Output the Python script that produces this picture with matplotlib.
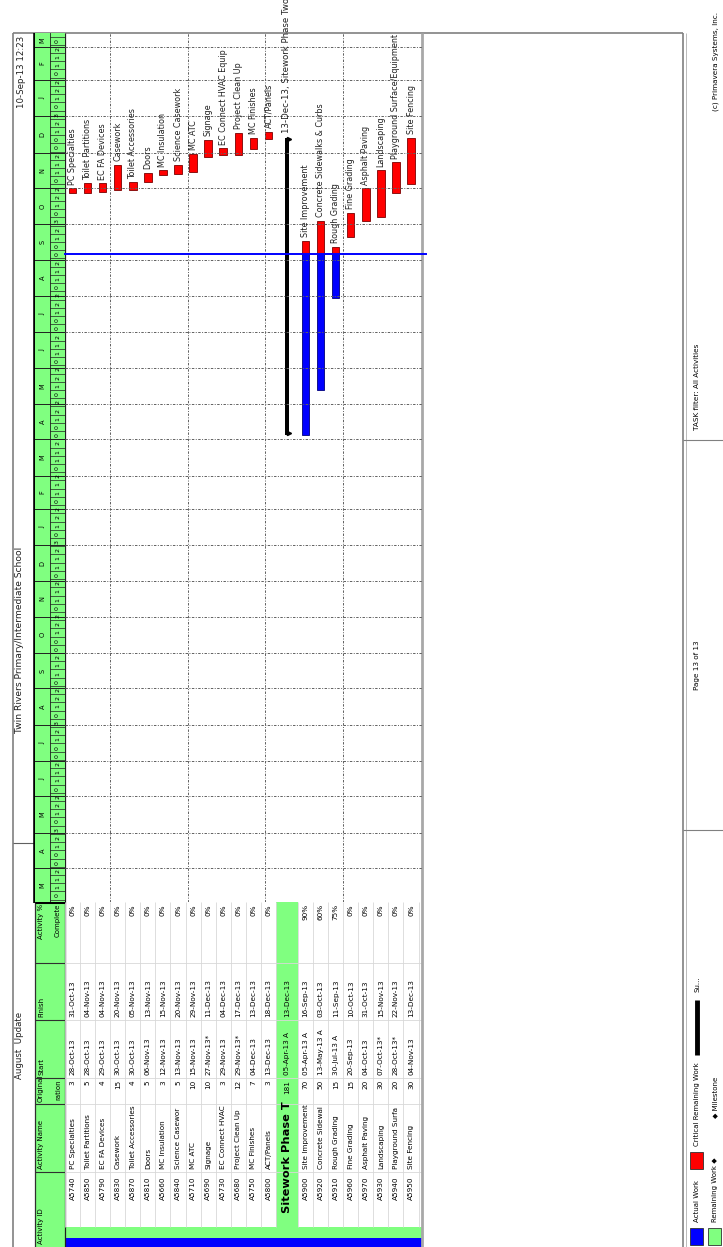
import datetime as dt

import matplotlib
matplotlib.use("Agg")
import matplotlib.dates as mdates
import matplotlib.pyplot as plt
import pandas as pd
from matplotlib.patches import Rectangle

# ── datos ─────────────────────────────────────────────────────────────────────
activity_ids = ["A5740", "A5850", "A5790", "A5830", "A5870", "A5810", "A5660",
                "A5840", "A5710", "A5690", "A5730", "A5680", "A5750", "A5800",
                "A5900", "A5920", "A5910", "A5960", "A5970", "A5930", "A5940",
                "A5950"]
activity_names = ["PC Specialties", "Toilet Partitions", "EC FA Devices",
                  "Casework", "Toilet Accessories", "Doors", "MC Insulation",
                  "Science Casework", "MC ATC", "Signage",
                  "EC Connect HVAC Equip", "Project Clean Up", "MC Finishes",
                  "ACT/Panels", "Site Improvement",
                  "Concrete Sidewalks & Curbs", "Rough Grading", "Fine Grading",
                  "Asphalt Paving", "Landscaping",
                  "Playground Surface/Equipment", "Site Fencing"]
orig_duration = [3, 5, 4, 15, 4, 5, 3, 5, 10, 10, 3, 12, 7, 3,
                 70, 50, 15, 15, 20, 30, 20, 30]
start_dates = ["28-Oct-13", "28-Oct-13", "29-Oct-13", "30-Oct-13", "30-Oct-13",
               "06-Nov-13", "12-Nov-13", "13-Nov-13", "15-Nov-13", "27-Nov-13",
               "29-Nov-13", "29-Nov-13", "04-Dec-13", "13-Dec-13",
               "05-Apr-13", "13-May-13", "30-Jul-13", "20-Sep-13", "04-Oct-13",
               "07-Oct-13", "28-Oct-13", "04-Nov-13"]
start_flags = ["", "", "", "", "", "", "", "", "", "*", "", "*", "", "",
               " A", " A", " A", "", "", "*", "*", ""]
finish_dates = ["31-Oct-13", "04-Nov-13", "04-Nov-13", "20-Nov-13", "05-Nov-13",
                "13-Nov-13", "15-Nov-13", "20-Nov-13", "29-Nov-13", "11-Dec-13",
                "04-Dec-13", "17-Dec-13", "13-Dec-13", "18-Dec-13",
                "16-Sep-13", "03-Oct-13", "11-Sep-13", "10-Oct-13", "31-Oct-13",
                "15-Nov-13", "22-Nov-13", "13-Dec-13"]
pct_complete = [0, 0, 0, 0, 0, 0, 0, 0, 0, 0, 0, 0, 0, 0,
                90, 60, 75, 0, 0, 0, 0, 0]

summary_name = "Sitework Phase Two"
summary_duration = 181
summary_start = "05-Apr-13"
summary_finish = "13-Dec-13"
summary_before = 14          # la fila resumen va antes de la actividad 14

data_date = "06-Sep-13"
timescale_start = "03-Mar-12"
timescale_end = "13-Mar-14"

# ── layout (pixeles de la pagina rotada) ──────────────────────────────────────
W, H = 723, 1247
ROW_H = 15.07
SUM_W = 22
TOP_Y, TS_Y = 33, 902
GX0, GX1 = 65, 422
COL_LINES = [1172, 1104, 1078, 1020, 963]
GREEN = "#80FF80"
RED = "#FF0000"
BLUE = "#0000FF"
FONT = "DejaVu Sans"

plt.rcParams["font.family"] = [FONT]


def _d(s):
    return dt.datetime.strptime(s, "%d-%b-%y")


def _num(s):
    return mdates.date2num(_d(s))


# posiciones de filas
row_x = []
x = GX0
for i in range(len(activity_ids)):
    if i == summary_before:
        sum_x0 = x
        x += SUM_W
    row_x.append(x + ROW_H / 2)
    x += ROW_H
sum_xc = sum_x0 + SUM_W / 2

fig = plt.figure(figsize=(W / 100, H / 100), dpi=100)
renderer = fig.canvas.get_renderer()

# pagina completa en pixeles
pg = fig.add_axes([0, 0, 1, 1], zorder=0)
pg.set_xlim(0, W)
pg.set_ylim(H, 0)
pg.axis("off")


def hline(y, x0, x1, **kw):
    pg.plot([x0, x1], [y, y], solid_capstyle="butt", **kw)


def vline(x, y0, y1, **kw):
    pg.plot([x, x], [y0, y1], solid_capstyle="butt", **kw)


def ptext(x, y, s, size, va="bottom", room=None, **kw):
    """Texto rotado; si no cabe en `room` px se recorta como en P6."""
    t = pg.text(x, y, s, rotation=90, ha="center", va=va, fontsize=size, **kw)
    if room is not None:
        while len(s) > 1 and t.get_window_extent(renderer).height > room:
            s = s[:-1] if va == "bottom" else s[1:]
            t.set_text(s)
    return t


# fondos
pg.add_patch(Rectangle((35, TS_Y), 30, H - TS_Y, color=GREEN, lw=0))
pg.add_patch(Rectangle((sum_x0, TS_Y), SUM_W, 1227 - TS_Y, color=GREEN, lw=0))
pg.add_patch(Rectangle((GX0, 1227), GX1 - GX0, 11, color=GREEN, lw=0))
pg.add_patch(Rectangle((GX0, 1238), GX1 - GX0, 10, color=BLUE, lw=0))

# bordes de pagina y cabecera
hline(TOP_Y, 13, 683, color="#808080", lw=1.2)
vline(13, TOP_Y, H, color="#808080", lw=1.2)
hline(843, 13, 35, color="#606060", lw=0.8)
vline(35, TOP_Y, TS_Y + 1, color="black", lw=2.6)
vline(35, TS_Y, H, color="#303030", lw=0.9)
vline(GX0, TOP_Y, H, color="#202020", lw=0.9)
hline(TS_Y, 35, GX0, color="black", lw=2.2)
for y in COL_LINES:
    hline(y, 35, GX0, color="#303030", lw=0.8)
    hline(y, GX0, GX1, color="#d8d8d8", lw=0.6)
x = GX0
for i in range(len(activity_ids)):
    if i == summary_before:
        vline(x, TS_Y, 1227, color="#d8d8d8", lw=0.6)
        x += SUM_W
    vline(x, TS_Y, 1227, color="#d8d8d8", lw=0.6)
    x += ROW_H
vline(x, TS_Y, 1227, color="#d8d8d8", lw=0.6)
vline(GX1, TOP_Y, H, color="#a8a8a8", lw=2)

# titulos
ptext(20, 1045, "August  Update", 6.2, va="center", color="#202020")
ptext(20, 640, "Twin Rivers Primary/Intermediate School", 6.6, va="center",
      color="#202020")
ptext(22, 36, "10-Sep-13 12:23", 6.2, va="top", color="#202020")

# cabecera de tabla
hs = 5.0
ptext(41, 1244, "Activity ID", hs, room=70)
ptext(41, 1169, "Activity Name", hs)
ptext(41, 1102, "Original", hs, room=30)
ptext(58, 1079, "Duration", hs, va="top", room=24)
ptext(41, 1075, "Start", hs)
ptext(41, 1017, "Finish", hs)
ptext(41, 904, "Activity %", hs, va="top")
ptext(58, 904, "Complete", hs, va="top", room=58)

# filas de tabla
ts_ = 5.2
for i, xc in enumerate(row_x):
    ptext(xc, 1177, activity_ids[i], ts_, va="top")
    ptext(xc, 1169, activity_names[i], ts_, room=65)
    ptext(xc, 1080, str(orig_duration[i]), ts_, va="top")
    ptext(xc, 1075, start_dates[i] + start_flags[i], ts_, room=55)
    ptext(xc, 1017, finish_dates[i], ts_, room=54)
    ptext(xc, 904, f"{pct_complete[i]}%", ts_, va="top")

ptext(sum_xc, 1213, summary_name, 8.2, fontweight="bold", room=120)
ptext(sum_xc, 1080, str(summary_duration), ts_, va="top")
ptext(sum_xc, 1075, summary_start + " A", ts_, room=55)
ptext(sum_xc, 1017, summary_finish, ts_, room=54)

# ── escala de tiempo ──────────────────────────────────────────────────────────
t0, t1 = _num(timescale_start), _num(timescale_end)
ts = fig.add_axes([35 / W, 1 - TS_Y / H, 30 / W, (TS_Y - TOP_Y) / H], zorder=1)
ts.set_xlim(0, 2)
ts.set_ylim(t0, t1)
ts.axis("off")
ts.add_patch(Rectangle((0, t0), 2, t1 - t0, color=GREEN, lw=0))
months = pd.date_range("2012-03-01", "2014-04-01", freq="MS")
for a, b in zip(months[:-1], months[1:]):
    ma, mb = mdates.date2num(a), mdates.date2num(b)
    ts.plot([0, 2], [ma, ma], color="#202020", lw=0.7)
    mid = (max(ma, t0) + min(mb, t1)) / 2
    ts.text(0.5, mid, "JFMAMJJASOND"[a.month - 1], rotation=90, ha="center",
            va="center", fontsize=4.8, clip_on=True)
weeks = pd.date_range("2012-02-27", "2014-03-17", freq="W-MON")
for a, b in zip(weeks[:-1], weeks[1:]):
    wa, wb = mdates.date2num(a), mdates.date2num(b)
    ts.plot([1, 2], [wa, wa], color="#202020", lw=0.5)
    mid = (max(wa, t0) + min(wb, t1)) / 2
    if wb - t0 > 3 and t1 - wa > 3:
        ts.text(1.5, mid, f"{a.day:02d}"[0], rotation=90, ha="center",
                va="center", fontsize=4.5, clip_on=True)
ts.plot([1, 1], [t0, t1], color="#202020", lw=0.6)

# ── gantt ─────────────────────────────────────────────────────────────────────
gx = fig.add_axes([GX0 / W, 1 - TS_Y / H, (GX1 - GX0) / W, (TS_Y - TOP_Y) / H],
                  zorder=2)
gx.set_xlim(GX0, GX1)
gx.set_ylim(t0, t1)
gx.patch.set_alpha(0)
gx.axis("off")

for m in months:
    mn = mdates.date2num(m)
    if t0 < mn < t1:
        gx.axhline(mn, color="#606060", lw=0.7, ls=(0, (2.5, 1.5, 1, 1.5)))
for xv in (110, 188, 265, 343):
    gx.axvline(xv, color="#606060", lw=0.7, ls=(0, (2.5, 1.5, 1, 1.5)))

dd = _num(data_date)
BAR_W = 7.5
for i, xc in enumerate(row_x):
    s = _num(start_dates[i])
    f = _num(finish_dates[i]) + 1
    if s < dd:
        gx.bar(xc, min(f, dd) - s, bottom=s, width=BAR_W, color=BLUE,
               edgecolor="#00007a", lw=0.6)
        if f > dd:
            gx.bar(xc, f - dd, bottom=dd, width=BAR_W, color=RED,
                   edgecolor="#7a0000", lw=0.6)
    else:
        gx.bar(xc, f - s, bottom=s, width=BAR_W, color=RED,
               edgecolor="#7a0000", lw=0.6)
    gx.annotate(activity_names[i], xy=(xc, f), xytext=(0, 2.5),
                textcoords="offset points", rotation=90, ha="center",
                va="bottom", fontsize=5.8, color="#202020",
                annotation_clip=False)

s = _num(summary_start)
f = _num(summary_finish) + 1
gx.bar(sum_xc, f - s, bottom=s, width=3.6, color="black", lw=0)
gx.plot([sum_xc + 1.8], [s + 1.2], marker=">", ms=3, color="black")
gx.plot([sum_xc + 1.8], [f - 1.2], marker=">", ms=3, color="black")
gx.annotate(f"{summary_finish}, {summary_name}", xy=(sum_xc, f),
            xytext=(0, 3), textcoords="offset points", rotation=90,
            ha="center", va="bottom", fontsize=6.2, color="#202020",
            annotation_clip=False)

gx.axhline(dd, xmin=0, xmax=1.01, color=BLUE, lw=1.4, clip_on=False)

# ── pie de pagina ─────────────────────────────────────────────────────────────
vline(683, TOP_Y, H, color="#808080", lw=1.2)
vline(686, TOP_Y, H, color="#b0b0b0", lw=0.6)
hline(440, 683, W, color="#808080", lw=0.8)
hline(830, 683, W, color="#808080", lw=0.8)
ptext(697, 430, "TASK filter: All Activities", 5.2)
ptext(697, 665, "Page 13 of 13", 5.2, va="center")
ptext(716, 12, "(c) Primavera Systems, Inc.", 5.2, va="top")

pg.add_patch(Rectangle((690, 1228), 13, 17, facecolor=BLUE, edgecolor="#303030",
                       lw=0.6))
ptext(697, 1222, "Actual Work", 5.0)
pg.add_patch(Rectangle((690, 1152), 13, 17, facecolor=RED, edgecolor="#303030",
                       lw=0.6))
ptext(697, 1146, "Critical Remaining Work", 5.0)
pg.plot([697, 697], [1000, 1055], color="black", lw=3.5, solid_capstyle="butt")
ptext(697, 992, "Su...", 5.0)
pg.add_patch(Rectangle((708, 1228), 13, 17, facecolor=GREEN, edgecolor="#303030",
                       lw=0.6))
ptext(715, 1222, "Remaining Work \u25c6", 5.0)
ptext(715, 1118, "\u25c6 Milestone", 5.0)

fig.savefig("out.png", dpi=100)
